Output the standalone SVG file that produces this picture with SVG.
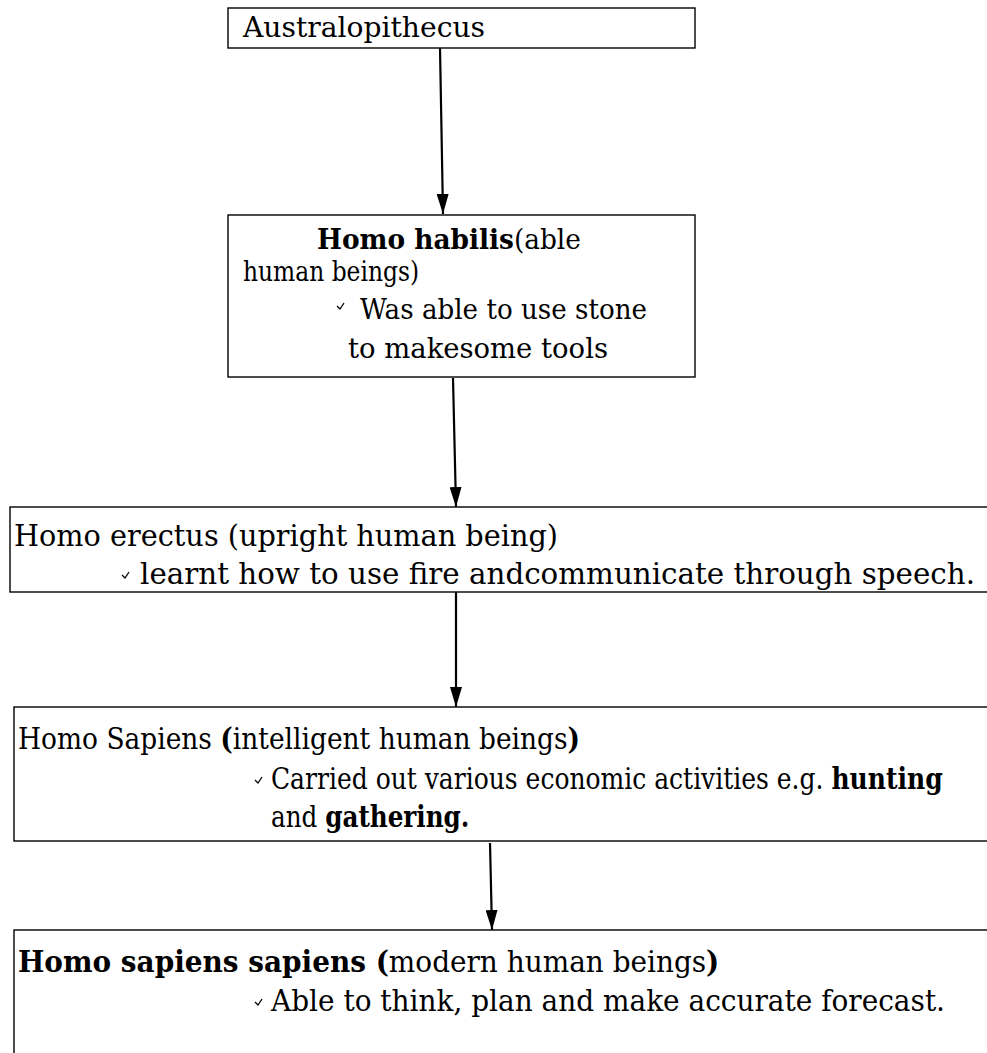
<svg xmlns="http://www.w3.org/2000/svg" width="987" height="1053" viewBox="0 0 987 1053">
<style>
.box{fill:#fff;stroke:#000;stroke-width:1.4}
.t{font-family:"DejaVu Serif","Liberation Serif",serif;font-size:27px;fill:#000}
.t2{font-family:"DejaVu Serif","Liberation Serif",serif;font-size:29px;fill:#000}
.b{font-weight:bold}
.conn{stroke:#000;stroke-width:2.2;fill:none;marker-end:url(#ah)}
.chk{fill:none;stroke:#000;stroke-width:1.3}
</style>
<defs>
<marker id="ah" viewBox="0 0 20 12" refX="20" refY="6" markerWidth="20" markerHeight="12" markerUnits="userSpaceOnUse" orient="auto">
<path d="M0,0 L20,6 L0,12 z" fill="#000"/>
</marker>
</defs>
<rect width="987" height="1053" fill="#fff"/>
<g id="connectors">
<line class="conn" x1="440" y1="48" x2="443" y2="214"/>
<line class="conn" x1="453" y1="378" x2="456" y2="507"/>
<line class="conn" x1="456" y1="592" x2="456" y2="707"/>
<line class="conn" x1="490" y1="843" x2="492" y2="930"/>
</g>
<g id="australopithecus">
<rect class="box" x="228" y="8" width="467" height="40"/>
<text class="t" x="243" y="37" textLength="242" lengthAdjust="spacingAndGlyphs">Australopithecus</text>
</g>
<g id="homo-habilis">
<rect class="box" x="228" y="215" width="467" height="162"/>
<text class="t" transform="translate(317,249) scale(0.978,1)"><tspan class="b">Homo habilis</tspan>(able</text>
<text class="t" x="243" y="281" textLength="176" lengthAdjust="spacingAndGlyphs">human beings)</text>
<path class="chk" d="M337,306 L340,309 L344,303"/>
<text class="t" x="360" y="319" textLength="287" lengthAdjust="spacingAndGlyphs">Was able to use stone</text>
<text class="t" x="348" y="358" textLength="260" lengthAdjust="spacingAndGlyphs">to makesome tools</text>
</g>
<g id="homo-erectus">
<rect class="box" x="10" y="507" width="990" height="85"/>
<text class="t2" x="14" y="546" textLength="544" lengthAdjust="spacingAndGlyphs">Homo erectus (upright human being)</text>
<path class="chk" d="M122,575 L125,578 L129,572"/>
<text class="t2" x="140" y="584" textLength="835" lengthAdjust="spacingAndGlyphs">learnt how to use fire andcommunicate through speech.</text>
</g>
<g id="homo-sapiens">
<rect class="box" x="14" y="707" width="990" height="134"/>
<text class="t2" transform="translate(18,749) scale(0.912,1)">Homo Sapiens <tspan class="b">(</tspan>intelligent human beings<tspan class="b">)</tspan></text>
<path class="chk" d="M255,780 L258,783 L262,777"/>
<text class="t2" transform="translate(271,789) scale(0.862,1)">Carried out various economic activities e.g. <tspan class="b">hunting</tspan></text>
<text class="t2" transform="translate(271,827) scale(0.85,1)">and <tspan class="b">gathering.</tspan></text>
</g>
<g id="homo-sapiens-sapiens">
<rect class="box" x="14" y="930" width="990" height="140"/>
<text class="t2" transform="translate(18,972) scale(0.963,1)"><tspan class="b">Homo sapiens sapiens (</tspan>modern human beings<tspan class="b">)</tspan></text>
<path class="chk" d="M255,1002 L258,1005 L262,999"/>
<text class="t2" x="271" y="1011" textLength="674" lengthAdjust="spacingAndGlyphs">Able to think, plan  and make accurate forecast.</text>
</g>
</svg>
